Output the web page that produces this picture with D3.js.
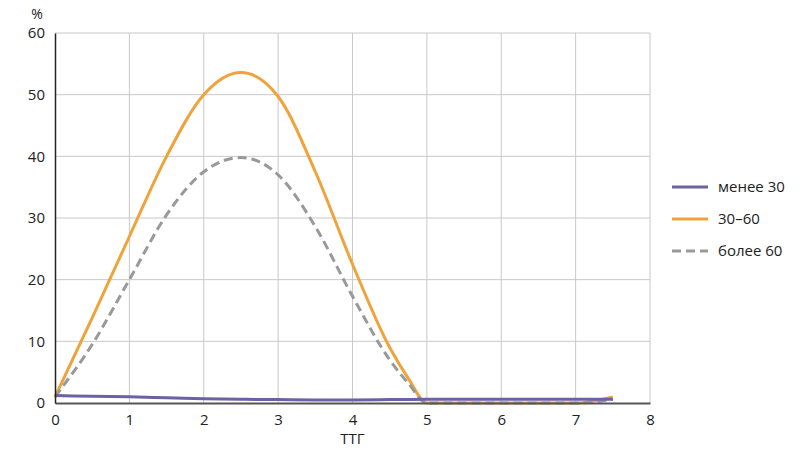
<!DOCTYPE html>
<html><head><meta charset="utf-8">
<script src="https://cdn.jsdelivr.net/npm/d3@7"></script>
<style>body{margin:0;background:#fff;}svg{display:block;font-family:"Open Sans","Noto Sans",sans-serif;}</style>
</head><body>
<svg id="c" width="800" height="455"></svg>
<script>
const xValues = [0,0.5,1,1.5,2,2.5,3,3.5,4,4.5,4.75,5,5.5,6,6.5,7,7.5];
const seriesNames = ["менее 30","30–60","более 60"];
const lessThan30 = [1.2,1.1,1.0,0.85,0.7,0.6,0.55,0.5,0.5,0.55,0.58,0.6,0.6,0.6,0.6,0.6,0.6];
const from30to60 = [1,13.8,27,40,50,53.6,49.7,37.5,22.5,9,4,0,0,0,0,0,1];
const moreThan60 = [1,9.5,20,30.5,37.5,39.8,37,28.6,17.3,7,3.2,0,0,0,0,0,0.6];
const xTicks = [0,1,2,3,4,5,6,7,8];
const yTicks = [0,10,20,30,40,50,60];
const xLabel = "ТТГ";
const yLabel = "%";

const svg = d3.select("#c");
const x = d3.scaleLinear().domain([0,8]).range([55,650]);
const y = d3.scaleLinear().domain([0,60]).range([403,33]);

// grid
svg.append("g").selectAll("line").data(xTicks.slice(1)).join("line")
  .attr("x1",d=>x(d)).attr("x2",d=>x(d)).attr("y1",y(0)).attr("y2",y(60))
  .attr("stroke","#c8c8c8").attr("stroke-width",1);
svg.append("g").selectAll("line").data(yTicks.slice(1)).join("line")
  .attr("x1",x(0)).attr("x2",x(8)).attr("y1",d=>y(d)).attr("y2",d=>y(d))
  .attr("stroke","#c8c8c8").attr("stroke-width",1);

const styles = [
  {color:"#6c61a2", dash:null},
  {color:"#efa33a", dash:null},
  {color:"#999999", dash:"9,5"}
];
const allSeries = [lessThan30, from30to60, moreThan60];
const line = d3.line().x((d,i)=>x(xValues[i])).y(d=>y(d)).curve(d3.curveMonotoneX);

const lines = svg.append("g");
[1,2,0].forEach(k=>{
  lines.append("path").datum(allSeries[k]).attr("d",line).attr("fill","none")
    .attr("stroke",styles[k].color).attr("stroke-width",3)
    .attr("stroke-dasharray",styles[k].dash);
});

// axes (drawn on top)
const xAxis = svg.append("g").attr("transform",`translate(0,${y(0)})`)
  .call(d3.axisBottom(x).tickValues(xTicks).tickSize(0).tickPadding(11).tickFormat(d3.format("d")));
xAxis.select(".domain").attr("stroke","#555").attr("stroke-width",2);
xAxis.selectAll("text").attr("font-size",15).attr("fill","#222").attr("font-family","Open Sans");

const yAxis = svg.append("g").attr("transform",`translate(${x(0)},0)`)
  .call(d3.axisLeft(y).tickValues(yTicks).tickSize(0).tickPadding(10).tickFormat(d3.format("d")));
yAxis.select(".domain").attr("stroke","#222").attr("stroke-width",1.5);
yAxis.selectAll("text").attr("font-size",15).attr("fill","#222").attr("font-family","Open Sans");

svg.append("text").attr("x",37).attr("y",19).attr("text-anchor","middle")
  .attr("font-size",14).attr("fill","#222").text(yLabel);
svg.append("text").attr("x",x(4)).attr("y",444).attr("text-anchor","middle")
  .attr("font-size",15).attr("fill","#222").text(xLabel);

// legend
const lg = svg.append("g");
seriesNames.forEach((n,k)=>{
  const ly = 187 + k*32;
  lg.append("line").attr("x1",672).attr("x2",708).attr("y1",ly).attr("y2",ly)
    .attr("stroke",styles[k].color).attr("stroke-width",3).attr("stroke-dasharray",styles[k].dash);
  lg.append("text").attr("x",718).attr("y",ly+5).attr("font-size",15).attr("fill","#222").text(n);
});
</script>
</body></html>
